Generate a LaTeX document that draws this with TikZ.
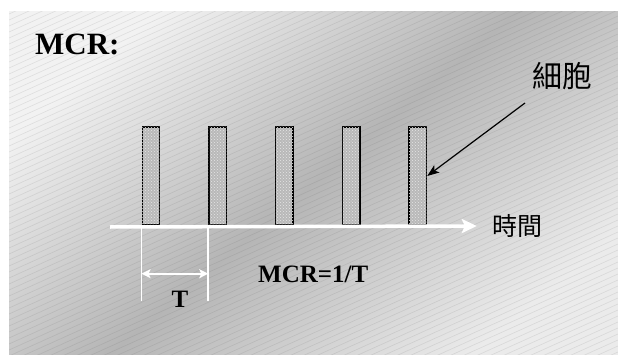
\documentclass[tikz,border=0pt]{standalone}
\usepackage{fontspec}
\setmainfont{Liberation Serif}
\newfontfamily\cjk{Noto Sans CJK TC}
\usetikzlibrary{arrows.meta,patterns}

\begin{document}
\begin{tikzpicture}[x=1pt,y=1pt,
    hatch/.style={gray!60!black,opacity=0.12,line width=0.6pt},
    cell/.style={draw=black,line width=1.4pt,fill=gray!55,minimum width=17.5pt,minimum height=98pt,inner sep=0pt,
        postaction={pattern=crosshatch dots,pattern color=gray!20}},
    timeline/.style={white,line width=3.5pt,-{Stealth[length=15pt,width=14pt,inset=3pt]}},
    marker/.style={white,line width=1.6pt},
    span/.style={white,line width=1.6pt,{Stealth[length=9pt,width=9pt,inset=2pt]}-{Stealth[length=9pt,width=9pt,inset=2pt]}},
    lbl/.style={font=\bfseries\fontsize{25}{25}\selectfont,inner sep=0pt}]
    \useasboundingbox (0,0) rectangle (618,354);

    % backdrop: diagonal grey gradient with fine hatching
    \shade[top color=gray!10,bottom color=gray!16,middle color=gray!58,shading angle=40] (9,0) rectangle (618,342);
    \begin{scope}
        \clip (9,0) rectangle (618,342);
        \foreach \c in {-290,-284,...,342}
            \draw[hatch] (9,\c) -- ++(609,274);
    \end{scope}

    \node[anchor=base west,font=\bfseries\fontsize{31}{31}\selectfont,inner sep=0pt] (title) at (35,299) {MCR:};

    % the cells along the time line
    \foreach \i in {1,...,5}
        \node[cell] (bar\i) at ({151+66.7*(\i-1)},178) {};

    \coordinate (t0) at (110,127);
    \node[font=\cjk\fontsize{25}{25}\selectfont,inner sep=0pt] (time) at (517,128) {時間};
    \draw[timeline] (t0) -- ([xshift=-15pt]time.west);

    % period between two cells
    \coordinate (m1) at (bar1.south west);
    \coordinate (m2) at (bar2.south west);
    \draw[marker] (m1) -- ++(0,-75) coordinate (m1b);
    \draw[marker] (m2) -- ++(0,-75) coordinate (m2b);
    \draw[span] ([yshift=27pt]m1b) -- ([yshift=27pt]m2b);
    \node[lbl,anchor=base] (period) at (180,47) {T};
    \node[lbl,anchor=base west] (rate) at (258,72) {MCR=1/T};

    \node[font=\cjk\fontsize{30}{30}\selectfont,inner sep=0pt] (celllbl) at (562,278) {細胞};
    \coordinate (ptr) at (525,251);
    \draw[line width=1.2pt,-{Stealth[length=12pt,width=9pt,inset=3pt]}] (ptr) -- (bar5.east);
\end{tikzpicture}
\end{document}
